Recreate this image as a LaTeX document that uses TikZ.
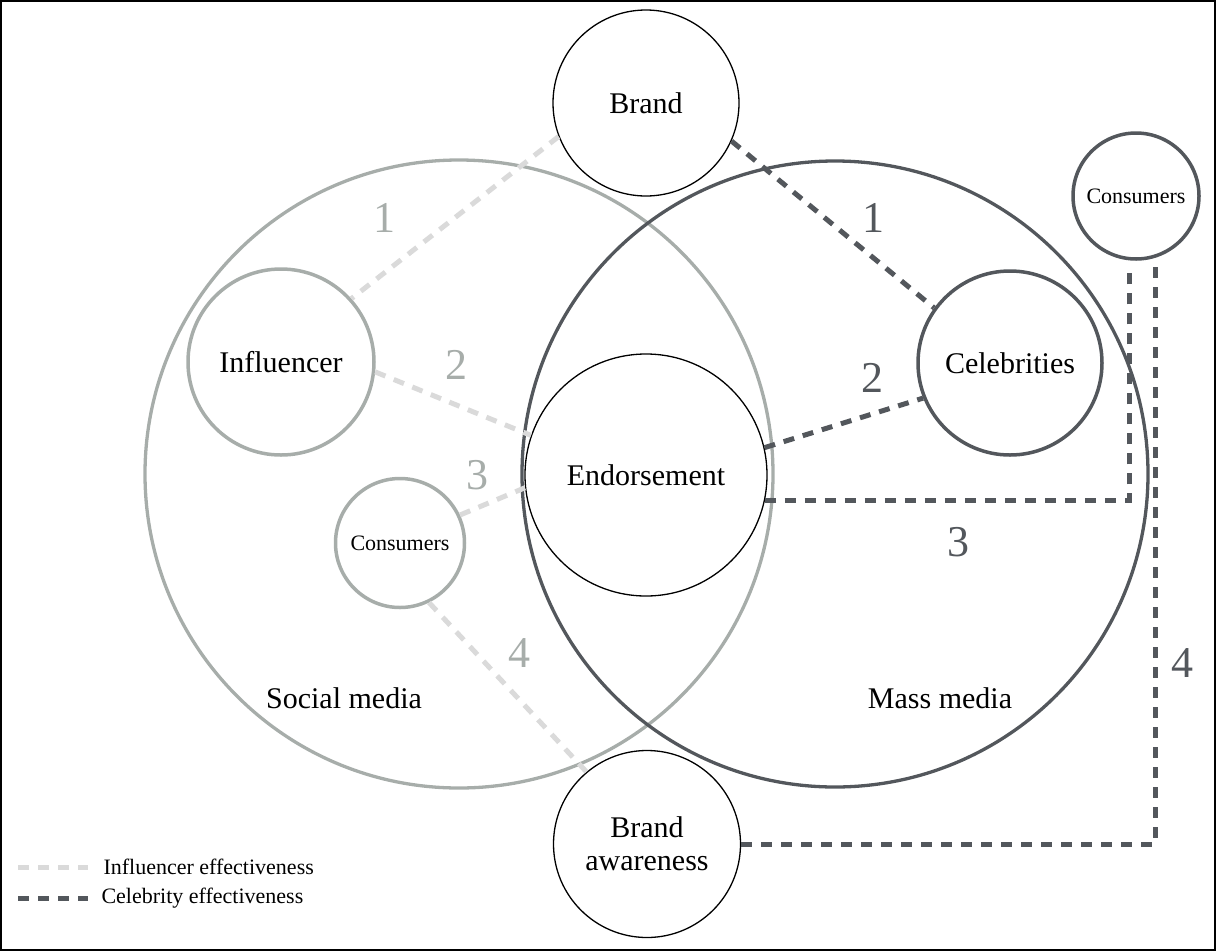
\documentclass[tikz,border=0pt]{standalone}
\usepackage{fontspec}
\setmainfont{Liberation Serif}
\definecolor{sgray}{HTML}{A7ADAA}
\definecolor{dgray}{HTML}{53575C}
\definecolor{lgray}{HTML}{DADADA}
\begin{document}
\begin{tikzpicture}[x=1pt,y=-1pt,
  lbl/.style={font=\fontsize{30}{33}\selectfont, align=center},
  blackc/.style={circle, draw=black, line width=1.3pt, inner sep=0pt, lbl},
  grayc/.style={circle, draw=sgray, line width=3.5pt, inner sep=0pt, lbl},
  darkc/.style={circle, draw=dgray, line width=3.5pt, inner sep=0pt, lbl},
  small/.style={font=\fontsize{22}{24}\selectfont},
  numl/.style={font=\fontsize{44}{44}\selectfont, text=sgray},
  numd/.style={font=\fontsize{44}{44}\selectfont, text=dgray},
  ldash/.style={draw=lgray, line width=5pt, dash pattern=on 11pt off 9pt},
  ddash/.style={draw=dgray, line width=5pt, dash pattern=on 11pt off 9pt},
  legtext/.style={font=\fontsize{22}{24}\selectfont, anchor=west}
]
\useasboundingbox (0,0) rectangle (1216,951);
\draw[line width=2pt] (1,1) rectangle (1215,950);

% media circles
\node[circle, draw=sgray, line width=3.3pt, minimum size=628pt, inner sep=0pt] (social) at (459,474) {};
\node[circle, draw=dgray, line width=3.3pt, minimum size=626pt, inner sep=0pt] (mass) at (835,474) {};
\node[lbl] (sociallbl) at (344,698) {Social media};
\node[lbl] (masslbl) at (940,698) {Mass media};

% nodes
\node[blackc, minimum size=186pt] (brand) at (646,103) {Brand};
\node[blackc, minimum size=242pt] (endo) at (646,475) {Endorsement};
\node[blackc, minimum size=187pt] (ba) at (647,844) {Brand\\awareness};
\node[grayc, minimum size=186pt] (infl) at (281,362) {Influencer};
\node[grayc, minimum size=129pt, small] (consl) at (400,543) {Consumers};
\node[darkc, minimum size=184pt] (celeb) at (1010,363) {Celebrities};
\node[darkc, minimum size=126pt, small] (consr) at (1136,196) {Consumers};

% influencer path
\draw[ldash] (brand.201.7) -- (infl.42);
\draw[ldash] (infl.354) -- (endo.161);
\draw[ldash] (consl.25) -- (endo.186);
\draw[ldash] (consl.296) -- (ba.130);

% celebrity path
\coordinate (c3) at (1129,265);
\coordinate (c4) at (1155,265);
\draw[ddash] (brand.336) -- (celeb.144);
\draw[ddash] (endo.13.6) -- (celeb.202);
\draw[ddash] (endo.348) -| (c3);
\draw[ddash] (ba.east) -| (c4);

% numbers
\node[numl] (l1) at (384,218) {1};
\node[numl] (l2) at (456,365) {2};
\node[numl] (l3) at (477,475) {3};
\node[numl] (l4) at (519,653) {4};
\node[numd] (d1) at (873,218) {1};
\node[numd] (d2) at (872,378) {2};
\node[numd] (d3) at (958,542) {3};
\node[numd] (d4) at (1182,663) {4};

% legend
\coordinate (la) at (18,867);
\coordinate (lb) at (88,867);
\coordinate (da) at (18,898);
\coordinate (db) at (88,898);
\draw[ldash] (la) -- (lb);
\draw[ddash] (da) -- (db);
\node[legtext] (lt1) at (100,867) {Influencer effectiveness};
\node[legtext] (lt2) at (98,898) {Celebrity effectiveness};
\end{tikzpicture}
\end{document}
